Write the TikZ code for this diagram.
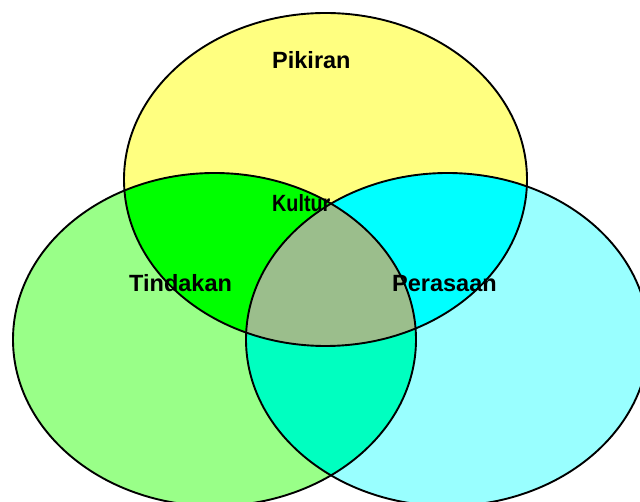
\documentclass[tikz,border=0pt]{standalone}
\usepackage{fontspec}
\setmainfont{Liberation Sans}
\usepackage{graphicx}
\definecolor{cTop}{HTML}{FFFF80}
\definecolor{cLeft}{HTML}{99FF88}
\definecolor{cRight}{HTML}{99FFFF}
\definecolor{cTL}{HTML}{00FF00}
\definecolor{cTR}{HTML}{00FFFF}
\definecolor{cLR}{HTML}{00FFC0}
\definecolor{cAll}{HTML}{9BBE8C}
\tikzset{
  vlabel/.style={inner sep=0pt, anchor=base west, font=\fontsize{23.5}{28}\selectfont\bfseries},
  vline/.style={draw=black, line width=1.9pt}
}
\newcommand{\topE}{(325.5,179.5) ellipse [x radius=201.5, y radius=166.5]}
\newcommand{\leftE}{(214.5,339.5) ellipse [x radius=201.5, y radius=166.5]}
\newcommand{\rightE}{(447.5,339.5) ellipse [x radius=201.5, y radius=166.5]}
\begin{document}
\begin{tikzpicture}[x=1pt,y=-1pt]
\useasboundingbox (0,0) rectangle (640,502);
\fill[white] (0,0) rectangle (640,502);
\fill[cTop] \topE;
\fill[cLeft] \leftE;
\fill[cRight] \rightE;
\begin{scope}
  \clip \topE;
  \fill[cTL] \leftE;
  \fill[cTR] \rightE;
\end{scope}
\begin{scope}
  \clip \leftE;
  \fill[cLR] \rightE;
  \clip \rightE;
  \fill[cAll] \topE;
\end{scope}
\draw[vline] \topE;
\draw[vline] \leftE;
\draw[vline] \rightE;
\node[vlabel] (pikiran) at (272,69) {Pikiran};
\node[vlabel] (kultur) at (272,212) {\scalebox{0.84}[1]{Kultur}};
\node[vlabel] (tindakan) at (129,292) {Tindakan};
\node[vlabel] (perasaan) at (392,292) {Perasaan};
\end{tikzpicture}
\end{document}
